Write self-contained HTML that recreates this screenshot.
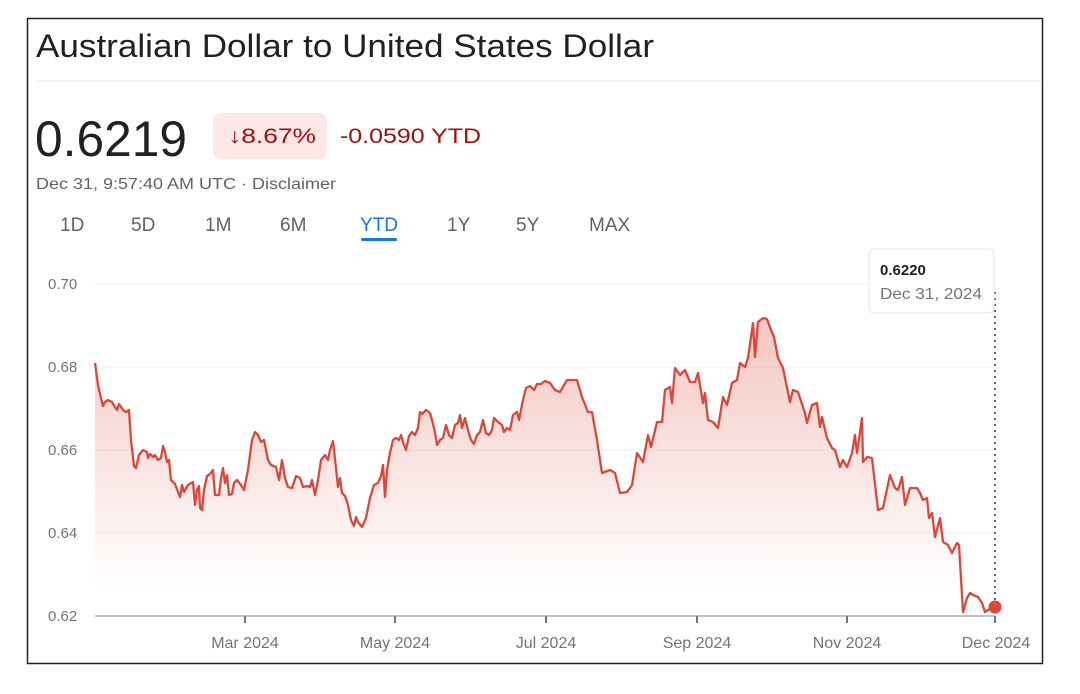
<!DOCTYPE html>
<html><head><meta charset="utf-8"><style>
body{margin:0;background:#fff;width:1080px;height:689px;overflow:hidden;font-family:"Liberation Sans",Arial,sans-serif}
</style></head><body>
<svg width="1080" height="689" viewBox="0 0 1080 689" xmlns="http://www.w3.org/2000/svg" font-family="Liberation Sans, Arial, sans-serif">
<defs><linearGradient id="g" gradientUnits="userSpaceOnUse" x1="0" y1="318" x2="0" y2="590"><stop offset="0" stop-color="#e06a5e" stop-opacity="0.38"/><stop offset="1" stop-color="#e06a5e" stop-opacity="0"/></linearGradient></defs>
<rect x="27.5" y="18.5" width="1015" height="645" fill="#fff" stroke="#222" stroke-width="1.5"/>
<text x="36" y="57" font-size="32" fill="#202124" textLength="618" lengthAdjust="spacingAndGlyphs">Australian Dollar to United States Dollar</text>
<line x1="36" y1="81" x2="1042" y2="81" stroke="#e8e8e8"/>
<text x="35" y="156" font-size="50" fill="#202124" textLength="152" lengthAdjust="spacingAndGlyphs">0.6219</text>
<rect x="213" y="113" width="114" height="46" rx="8" fill="#fce8e6"/>
<text x="228" y="143" font-size="21" fill="#a50e0e" textLength="88" lengthAdjust="spacingAndGlyphs">↓8.67%</text>
<text x="340" y="143" font-size="21" fill="#a50e0e" textLength="141" lengthAdjust="spacingAndGlyphs">-0.0590 YTD</text>
<text x="36" y="189" font-size="16" fill="#5f6368" textLength="300" lengthAdjust="spacingAndGlyphs">Dec 31, 9:57:40 AM UTC · Disclaimer</text>
<g font-size="19" fill="#5f6368">
<text x="60" y="231">1D</text><text x="131" y="231">5D</text><text x="205" y="231">1M</text><text x="280" y="231">6M</text>
<text x="360" y="231" fill="#1a73e8">YTD</text><text x="447" y="231">1Y</text><text x="516" y="231">5Y</text><text x="589" y="231">MAX</text>
</g>
<rect x="361" y="238" width="36" height="3" rx="1.5" fill="#1a73e8"/>
<g stroke="#efefef" stroke-width="1"><line x1="95" y1="284" x2="995" y2="284"/><line x1="95" y1="367" x2="995" y2="367"/><line x1="95" y1="450" x2="995" y2="450"/><line x1="95" y1="533" x2="995" y2="533"/></g>
<g font-size="15" fill="#70757a"><text x="48" y="289">0.70</text><text x="48" y="372">0.68</text><text x="48" y="455">0.66</text><text x="48" y="538">0.64</text><text x="48" y="621">0.62</text></g>
<polygon fill="url(#g)" points="95,616 95,363 98,385 101,398 103,406 105,402 108,400 112,402 115,407 117,410 119,404 123,410 126,412 129,410 131,440 134,466 136,468 139,455 143,450 147,452 148,458 150,454 153,457 155,455 158,460 161,458 163,446 165,452 167,462 169,460 171,480 175,484 178,492 180,497 182,485 184,492 188,485 193,482 195,505 197,490 199,486 200,508 202,510 204,490 207,476 210,474 213,470 215,495 219,495 221,478 223,468 225,483 227,475 229,495 232,494 234,483 237,480 241,485 244,490 248,470 252,440 255,432 258,435 261,442 264,440 268,460 271,465 276,467 279,480 282,460 285,478 288,487 292,488 296,476 300,478 303,487 307,486 310,487 312,480 315,495 318,480 321,460 325,455 328,460 330,450 333,441 336,468 338,487 340,478 342,493 345,496 348,505 351,520 354,526 356,517 358,522 362,527 366,518 370,498 374,485 378,483 381,476 383,465 385,497 387,470 390,453 393,440 396,438 399,440 401,435 403,442 406,450 409,436 412,432 415,435 418,428 420,412 422,414 426,410 430,413 432,420 435,432 437,445 440,440 443,438 446,425 449,435 452,438 455,425 458,423 460,415 462,428 465,418 468,430 471,440 474,444 477,435 480,432 483,420 486,433 489,435 492,430 494,418 498,422 502,425 504,432 507,428 510,430 513,415 517,412 519,420 523,400 526,388 530,386 534,390 537,384 541,384 545,381 550,383 555,390 560,392 567,380 577,380 582,397 588,412 592,412 597,440 602,473 610,470 615,473 620,493 627,492 632,485 637,453 643,462 648,435 651,447 657,422 662,422 665,390 670,387 672,403 675,368 680,375 685,370 690,382 695,382 698,373 703,403 705,393 708,420 713,422 718,428 723,397 727,405 732,383 737,380 740,363 745,367 748,358 753,323 755,357 758,322 763,318 767,319 771,330 774,337 778,358 783,368 790,402 793,390 798,392 805,413 807,423 812,405 817,403 820,427 822,417 827,438 832,448 835,450 840,467 843,460 847,467 852,453 855,435 857,453 862,418 863,462 867,457 872,458 878,510 883,508 890,475 895,488 898,490 902,477 905,505 910,488 917,488 920,493 923,500 927,498 929,518 932,513 935,537 940,518 943,542 948,545 952,553 957,543 959,545 963,612 967,598 970,593 973,595 978,597 982,603 985,612 988,610 995,607 995,616"/>
<polyline fill="none" stroke="#d9483b" stroke-width="2.3" stroke-linejoin="round" points="95,363 98,385 101,398 103,406 105,402 108,400 112,402 115,407 117,410 119,404 123,410 126,412 129,410 131,440 134,466 136,468 139,455 143,450 147,452 148,458 150,454 153,457 155,455 158,460 161,458 163,446 165,452 167,462 169,460 171,480 175,484 178,492 180,497 182,485 184,492 188,485 193,482 195,505 197,490 199,486 200,508 202,510 204,490 207,476 210,474 213,470 215,495 219,495 221,478 223,468 225,483 227,475 229,495 232,494 234,483 237,480 241,485 244,490 248,470 252,440 255,432 258,435 261,442 264,440 268,460 271,465 276,467 279,480 282,460 285,478 288,487 292,488 296,476 300,478 303,487 307,486 310,487 312,480 315,495 318,480 321,460 325,455 328,460 330,450 333,441 336,468 338,487 340,478 342,493 345,496 348,505 351,520 354,526 356,517 358,522 362,527 366,518 370,498 374,485 378,483 381,476 383,465 385,497 387,470 390,453 393,440 396,438 399,440 401,435 403,442 406,450 409,436 412,432 415,435 418,428 420,412 422,414 426,410 430,413 432,420 435,432 437,445 440,440 443,438 446,425 449,435 452,438 455,425 458,423 460,415 462,428 465,418 468,430 471,440 474,444 477,435 480,432 483,420 486,433 489,435 492,430 494,418 498,422 502,425 504,432 507,428 510,430 513,415 517,412 519,420 523,400 526,388 530,386 534,390 537,384 541,384 545,381 550,383 555,390 560,392 567,380 577,380 582,397 588,412 592,412 597,440 602,473 610,470 615,473 620,493 627,492 632,485 637,453 643,462 648,435 651,447 657,422 662,422 665,390 670,387 672,403 675,368 680,375 685,370 690,382 695,382 698,373 703,403 705,393 708,420 713,422 718,428 723,397 727,405 732,383 737,380 740,363 745,367 748,358 753,323 755,357 758,322 763,318 767,319 771,330 774,337 778,358 783,368 790,402 793,390 798,392 805,413 807,423 812,405 817,403 820,427 822,417 827,438 832,448 835,450 840,467 843,460 847,467 852,453 855,435 857,453 862,418 863,462 867,457 872,458 878,510 883,508 890,475 895,488 898,490 902,477 905,505 910,488 917,488 920,493 923,500 927,498 929,518 932,513 935,537 940,518 943,542 948,545 952,553 957,543 959,545 963,612 967,598 970,593 973,595 978,597 982,603 985,612 988,610 995,607"/>
<line x1="95" y1="616" x2="995" y2="616" stroke="#9aa0a6" stroke-width="1.3"/>
<g stroke="#70757a" stroke-width="2"><line x1="245" y1="616" x2="245" y2="623"/><line x1="395" y1="616" x2="395" y2="623"/><line x1="546" y1="616" x2="546" y2="623"/><line x1="697" y1="616" x2="697" y2="623"/><line x1="847" y1="616" x2="847" y2="623"/><line x1="995" y1="616" x2="995" y2="623"/></g>
<g font-size="16" fill="#70757a" text-anchor="middle"><text x="245" y="648">Mar 2024</text><text x="395" y="648">May 2024</text><text x="546" y="648">Jul 2024</text><text x="697" y="648">Sep 2024</text><text x="847" y="648">Nov 2024</text><text x="996" y="648">Dec 2024</text></g>
<line x1="995" y1="292" x2="995" y2="607" stroke="#666" stroke-width="2" stroke-dasharray="2,4"/>
<rect x="869" y="249" width="125" height="64" rx="5" fill="#fff" stroke="#e4e4e4"/>
<text x="880" y="275" font-size="15" font-weight="bold" fill="#202124">0.6220</text>
<text x="880" y="299" font-size="16" fill="#70757a" textLength="102" lengthAdjust="spacingAndGlyphs">Dec 31, 2024</text>
<circle cx="995" cy="607" r="6.5" fill="#d9483b"/>
</svg>
</body></html>
